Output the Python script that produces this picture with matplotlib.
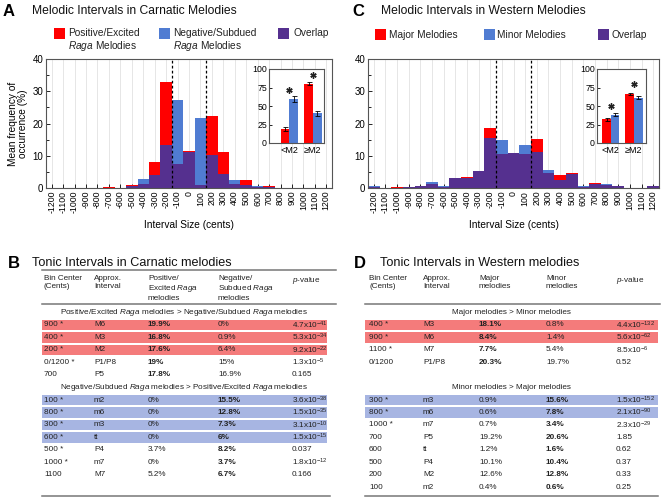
import numpy as np
import matplotlib
matplotlib.use("Agg")
import matplotlib.pyplot as plt
from matplotlib.patches import Rectangle
from matplotlib.lines import Line2D

plt.rcParams['font.family'] = ['Liberation Sans', 'DejaVu Sans']
plt.rcParams['mathtext.fontset'] = 'custom'
plt.rcParams['mathtext.rm'] = 'Liberation Sans'
plt.rcParams['mathtext.it'] = 'Liberation Sans:italic'
plt.rcParams['mathtext.bf'] = 'Liberation Sans:bold'

# ---------------- data ----------------
bins = list(range(-1200, 1300, 100))
carnatic_pos = [0, 0, 0, 0, 0, 0.3, 0, 1.0, 1.2, 8.0, 33.0, 7.4, 11.6, 1.0, 22.2, 11.2,
                1.3, 2.5, 0.2, 0.6, 0.1, 0, 0, 0, 0]
carnatic_neg = [0, 0, 0, 0, 0, 0.1, 0, 0.6, 2.7, 4.1, 13.2, 27.3, 11.1, 21.6, 10.1, 4.4,
                2.6, 1.0, 0.5, 0.2, 0.1, 0, 0, 0, 0]
western_major = [0.3, 0, 0.2, 0.4, 0.5, 1.2, 0.4, 3.2, 3.5, 5.4, 18.6, 10.4, 11.0, 10.5,
                 15.3, 4.5, 3.9, 4.8, 0.4, 1.6, 0.8, 0.7, 0.1, 0, 0.7]
western_minor = [0.5, 0, 0.1, 0.4, 0.5, 1.8, 0.5, 3.1, 3.1, 5.4, 15.5, 15.0, 10.7, 13.2,
                 11.3, 5.5, 2.6, 4.4, 0.5, 1.3, 1.3, 0.6, 0.1, 0, 0.7]

inset_labels = ['<M2', '≥M2']
carnatic_inset_pos = [19, 80]
carnatic_inset_pos_err = [2.5, 2]
carnatic_inset_neg = [60, 40]
carnatic_inset_neg_err = [4, 3.5]
western_inset_major = [32, 66]
western_inset_major_err = [2, 1.5]
western_inset_minor = [38, 61]
western_inset_minor_err = [2, 2]

# table B
b_headers = ['Bin Center\n(Cents)', 'Approx.\nInterval', 'Positive/\nExcited $\\it{Raga}$\nmelodies',
             'Negative/\nSubdued $\\it{Raga}$\nmelodies', '$\\it{p}$-value']
b_sec1_title = 'Positive/Excited $\\it{Raga}$ melodies > Negative/Subdued $\\it{Raga}$ melodies'
b_sec1 = [['900 *', 'M6', '19.9%', '0%', '4.7x10$^{-41}$'],
          ['400 *', 'M3', '16.8%', '0.9%', '5.3x10$^{-34}$'],
          ['200 *', 'M2', '17.6%', '6.4%', '9.2x10$^{-22}$'],
          ['0/1200 *', 'P1/P8', '19%', '15%', '1.3x10$^{-5}$'],
          ['700', 'P5', '17.8%', '16.9%', '0.165']]
b_sec1_hl = [True, True, True, False, False]
b_sec2_title = 'Negative/Subdued $\\it{Raga}$ melodies > Positive/Excited $\\it{Raga}$ melodies'
b_sec2 = [['100 *', 'm2', '0%', '15.5%', '3.6x10$^{-38}$'],
          ['800 *', 'm6', '0%', '12.8%', '1.5x10$^{-35}$'],
          ['300 *', 'm3', '0%', '7.3%', '3.1x10$^{-10}$'],
          ['600 *', 'tt', '0%', '6%', '1.5x10$^{-15}$'],
          ['500 *', 'P4', '3.7%', '8.2%', '0.037'],
          ['1000 *', 'm7', '0%', '3.7%', '1.8x10$^{-12}$'],
          ['1100', 'M7', '5.2%', '6.7%', '0.166']]
b_sec2_hl = [True, True, True, True, False, False, False]

# table D
d_headers = ['Bin Center\n(Cents)', 'Approx.\nInterval', 'Major\nmelodies', 'Minor\nmelodies',
             '$\\it{p}$-value']
d_sec1_title = 'Major melodies > Minor melodies'
d_sec1 = [['400 *', 'M3', '18.1%', '0.8%', '4.4x10$^{-132}$'],
          ['900 *', 'M6', '8.4%', '1.4%', '5.6x10$^{-62}$'],
          ['1100 *', 'M7', '7.7%', '5.4%', '8.5x10$^{-6}$'],
          ['0/1200', 'P1/P8', '20.3%', '19.7%', '0.52']]
d_sec1_hl = [True, True, False, False]
d_sec2_title = 'Minor melodies > Major melodies'
d_sec2 = [['300 *', 'm3', '0.9%', '15.6%', '1.5x10$^{-152}$'],
          ['800 *', 'm6', '0.6%', '7.8%', '2.1x10$^{-90}$'],
          ['1000 *', 'm7', '0.7%', '3.4%', '2.3x10$^{-29}$'],
          ['700', 'P5', '19.2%', '20.6%', '1.85'],
          ['600', 'tt', '1.2%', '1.6%', '0.62'],
          ['500', 'P4', '10.1%', '10.4%', '0.37'],
          ['200', 'M2', '12.6%', '12.8%', '0.33'],
          ['100', 'm2', '0.4%', '0.6%', '0.25']]
d_sec2_hl = [True, True, False, False, False, False, False, False]

# ---------------- styling ----------------
RED = '#FF0000'
BLUE = '#507CD2'
PURPLE = '#55308F'
HL_RED = '#F47B7B'
HL_BLUE = '#A7B5E2'
TXT = '#222222'

W, H = 662, 500
fig = plt.figure(figsize=(W / 100, H / 100), dpi=100)


def fx(x):
    return x / W


def fy(y):
    return 1 - y / H


def rect_px(x0, y0, x1, y1, color):
    fig.add_artist(Rectangle((fx(x0), fy(y1)), (x1 - x0) / W, (y1 - y0) / H,
                             transform=fig.transFigure, color=color, lw=0))


def hline_px(x0, x1, y, color='#777777', lw=1.1):
    fig.add_artist(Line2D([fx(x0), fx(x1)], [fy(y), fy(y)], transform=fig.transFigure,
                          color=color, lw=lw))


def text_px(x, y, s, **kw):
    kw.setdefault('va', 'center')
    kw.setdefault('ha', 'left')
    kw.setdefault('color', TXT)
    fig.text(fx(x), fy(y), s, **kw)


# ---------------- histograms ----------------
def histogram(x0, x1, pos, neg, ylabel):
    ax = fig.add_axes([fx(x0), fy(188), (x1 - x0) / W, 129 / H])
    ax.set_axisbelow(True)
    ax.grid(axis='x', color='#e2e2e2', lw=0.6)
    ax.bar(bins, pos, width=100, color=RED, lw=0)
    ax.bar(bins, neg, width=100, color=BLUE, lw=0)
    ax.bar(bins, np.minimum(pos, neg), width=100, color=PURPLE, lw=0)
    ax.axvline(-150, color='k', ls=(0, (2.2, 1.8)), lw=0.9)
    ax.axvline(150, color='k', ls=(0, (2.2, 1.8)), lw=0.9)
    ax.set_xlim(-1250, 1250)
    ax.set_ylim(0, 40)
    ax.set_xticks(bins)
    ax.set_xticklabels([str(b) for b in bins], rotation=90, fontsize=6.3)
    ax.set_yticks([0, 10, 20, 30, 40])
    ax.set_yticks([5, 15, 25, 35], minor=True)
    ax.tick_params(axis='y', labelsize=7, direction='in', length=3, width=0.6, pad=2)
    ax.tick_params(axis='y', which='minor', direction='in', length=2, width=0.6)
    ax.tick_params(axis='x', direction='in', length=3, width=0.6, pad=2)
    for s in ax.spines.values():
        s.set_color('#555555')
        s.set_linewidth(0.8)
    ax.set_xlabel('Interval Size (cents)', fontsize=7.3, labelpad=5)
    if ylabel:
        ax.set_ylabel('Mean frequency of\noccurrence (%)', fontsize=7.3, labelpad=3,
                      linespacing=1.0)
    return ax


def inset(x0, x1, a, aerr, b, berr, xlim, stars):
    ax = fig.add_axes([fx(x0), fy(143), (x1 - x0) / W, 74 / H])
    w = 0.37
    xs = np.arange(len(inset_labels))
    ax.bar(xs - w / 2, a, width=w, color=RED, lw=0)
    ax.bar(xs + w / 2, b, width=w, color=BLUE, lw=0)
    ax.errorbar(xs - w / 2, a, yerr=aerr, fmt='none', ecolor='k', elinewidth=0.6,
                capsize=1.8, capthick=0.6)
    ax.errorbar(xs + w / 2, b, yerr=berr, fmt='none', ecolor='k', elinewidth=0.6,
                capsize=1.8, capthick=0.6)
    ax.plot(xs, stars, ls='none', marker=(6, 2, 0), ms=4.5, mew=1.0, color='#222222')
    ax.set_xlim(*xlim)
    ax.set_ylim(0, 100)
    ax.set_yticks([0, 25, 50, 75, 100])
    ax.set_xticks(xs)
    ax.set_xticklabels(inset_labels, fontsize=6.5)
    ax.tick_params(axis='y', labelsize=6.3, direction='in', length=2, width=0.6, pad=1.5)
    ax.tick_params(axis='x', length=0, pad=2)
    for s in ax.spines.values():
        s.set_color('#555555')
        s.set_linewidth(0.8)


histogram(46, 332, carnatic_pos, carnatic_neg, True)
histogram(368, 659, western_major, western_minor, False)
inset(269, 324, carnatic_inset_pos, carnatic_inset_pos_err, carnatic_inset_neg,
      carnatic_inset_neg_err, (-0.87, 1.47), [72, 92])
inset(597, 646, western_inset_major, western_inset_major_err, western_inset_minor,
      western_inset_minor_err, (-0.6, 1.52), [50, 80])

# titles
text_px(3, 11, 'A', fontsize=12, fontweight='bold', color='k')
text_px(32, 11, 'Melodic Intervals in Carnatic Melodies', fontsize=8.7, color='#111111')
text_px(352, 11, 'C', fontsize=12, fontweight='bold', color='k')
text_px(381, 11, 'Melodic Intervals in Western Melodies', fontsize=8.7, color='#111111')
text_px(8, 263, 'B', fontsize=12, fontweight='bold', color='k')
text_px(32, 263, 'Tonic Intervals in Carnatic melodies', fontsize=9.1, color='#111111')
text_px(354, 263, 'D', fontsize=12, fontweight='bold', color='k')
text_px(380, 263, 'Tonic Intervals in Western melodies', fontsize=9.1, color='#111111')

# legends
LEGFS = 7.3
rect_px(54, 28, 65, 39, RED)
text_px(68, 33.5, 'Positive/Excited', fontsize=LEGFS)
text_px(68, 46, '$\\it{Raga}$ Melodies', fontsize=LEGFS)
rect_px(159, 28, 170, 39, BLUE)
text_px(173, 33.5, 'Negative/Subdued', fontsize=LEGFS)
text_px(173, 46, '$\\it{Raga}$ Melodies', fontsize=LEGFS)
rect_px(278, 28, 289, 39, PURPLE)
text_px(293, 33.5, 'Overlap', fontsize=LEGFS)

rect_px(375, 29, 386, 40, RED)
text_px(389, 34.5, 'Major Melodies', fontsize=LEGFS)
rect_px(484, 29, 495, 40, BLUE)
text_px(497, 34.5, 'Minor Melodies', fontsize=LEGFS)
rect_px(598, 29, 609, 40, PURPLE)
text_px(612, 34.5, 'Overlap', fontsize=LEGFS)

# ---------------- tables ----------------
TFS = 5.9
ROW = 12.45


def table(cols, x0, x1, headers, sec1_title, sec1, hl1, sec2_title, sec2, hl2,
          bold1, bold2, top_rule, rule_x1, bottom_x1):
    if top_rule:
        hline_px(x0, rule_x1, 270)
    for cx, h in zip(cols, headers):
        text_px(cx, 275, h, fontsize=TFS, va='top', linespacing=1.2)
    hline_px(x0, rule_x1, 304)
    mid = (x0 + x1) / 2
    text_px(mid, 313, sec1_title, fontsize=TFS, ha='center')
    y = 325
    for row, hl in zip(sec1, hl1):
        if hl:
            rect_px(x0, y - 5.2, x1, y + 5.2, HL_RED)
        for j, (cx, s) in enumerate(zip(cols, row)):
            text_px(cx, y, s, fontsize=TFS, fontweight='bold' if j == bold1 else 'normal')
        y += ROW
    text_px(mid, 387.5, sec2_title, fontsize=TFS, ha='center')
    y = 400
    for row, hl in zip(sec2, hl2):
        if hl:
            rect_px(x0, y - 5.2, x1, y + 5.2, HL_BLUE)
        for j, (cx, s) in enumerate(zip(cols, row)):
            text_px(cx, y, s, fontsize=TFS, fontweight='bold' if j == bold2 else 'normal')
        y += ROW
    hline_px(x0, bottom_x1, 496)


table([44, 94, 148, 218, 292], 42, 327, b_headers, b_sec1_title, b_sec1, b_sec1_hl,
      b_sec2_title, b_sec2, b_sec2_hl, 2, 3, True, 336, 330)
table([369, 423, 479, 546, 616], 365, 658, d_headers, d_sec1_title, d_sec1, d_sec1_hl,
      d_sec2_title, d_sec2, d_sec2_hl, 2, 3, False, 660, 658)

fig.savefig('out.png', dpi=100)
